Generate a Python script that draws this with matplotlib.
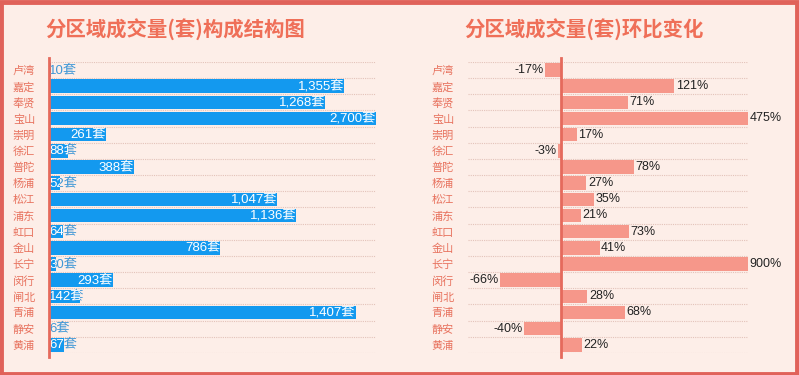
import matplotlib
matplotlib.use("Agg")
import matplotlib.pyplot as plt
from matplotlib.patches import Rectangle
from matplotlib.transforms import Bbox, TransformedBbox

plt.rcParams['font.family'] = ['Noto Sans CJK SC', 'DejaVu Sans']
num_font = ['Liberation Sans', 'Noto Sans CJK SC']

# 数据
districts = ['卢湾', '嘉定', '奉贤', '宝山', '崇明', '徐汇', '普陀', '杨浦', '松江',
             '浦东', '虹口', '金山', '长宁', '闵行', '闸北', '青浦', '静安', '黄浦']
volumes = [10, 1355, 1268, 2700, 261, 88, 388, 52, 1047, 1136, 64, 786, 30, 293, 142, 1407, 6, 67]
changes = [-17, 121, 71, 475, 17, -3, 78, 27, 35, 21, 73, 41, 900, -66, 28, 68, -40, 22]

title_left = '分区域成交量(套)构成结构图'
title_right = '分区域成交量(套)环比变化'

bg = '#fdeee8'
frame_col = '#e0625a'
title_col = '#ef6f58'
tick_col = '#e8735f'
grid_col = '#e3c3ba'
blue = '#1399ef'
blue_txt = '#3f97d6'
salmon = '#f6978a'
axis_col = '#e56a5c'

fig = plt.figure(figsize=(7.99, 3.75), dpi=100, facecolor=bg)
# 外框
fig.patches.append(Rectangle((0.0015, 0.004), 0.9955, 0.991, transform=fig.transFigure,
                             fill=False, edgecolor=frame_col, linewidth=3.5, zorder=10))

ax1 = fig.add_axes([0.0613, 0.059, 0.409, 0.776])
ax2 = fig.add_axes([0.5857, 0.059, 0.3504, 0.776])

n = len(districts)
ypos = list(range(n))
bh = 0.84


def style(ax, xlim):
    ax.set_facecolor('none')
    ax.set_xlim(*xlim)
    ax.set_ylim(n - 0.5, -0.5)
    for s in ax.spines.values():
        s.set_visible(False)
    ax.set_xticks([])
    ax.set_yticks(ypos)
    ax.set_yticklabels(districts, color=tick_col, fontsize=8)
    ax.tick_params(axis='y', length=0, pad=10)
    for b in range(n + 1):
        ax.axhline(b - 0.5, color=grid_col, linestyle=(0, (1, 1)), linewidth=0.8, zorder=0)
    ax.axvline(0, ymin=-0.015, ymax=1.015, color=axis_col, linewidth=2, clip_on=False, zorder=5)


# 左图
style(ax1, (0, 1500))
bars = ax1.barh(ypos, volumes, height=bh, color=blue, zorder=2)
fig.canvas.draw()
renderer = fig.canvas.get_renderer()
for v, y in zip(volumes, ypos):
    label = f'{v:,}套'
    end = min(v, 1500)
    t = ax1.text(end, y, label, ha='right', va='center', fontsize=9.5, color='white',
                 family=num_font, zorder=4)
    tw = t.get_window_extent(renderer).width
    bar_px = ax1.transData.transform((end, 0))[0] - ax1.transData.transform((0, 0))[0]
    if bar_px < tw + 2:
        t.set_ha('left')
        t.set_x(2)
        ax1.text(2, y, label, ha='left', va='center', fontsize=9.5, color=blue_txt,
                 family=num_font, zorder=3)
    # 白字只在柱子内显示
    t.set_clip_box(TransformedBbox(Bbox([[0, y - bh / 2], [end, y + bh / 2]]), ax1.transData))
    t.set_clip_on(True)

# 右图
style(ax2, (-100, 200))
ax2.barh(ypos, changes, height=bh, color=salmon, zorder=2)
for v, y in zip(changes, ypos):
    end = max(min(v, 200), -100)
    if v >= 0:
        ax2.text(end + 1.5, y, f'{v}%', ha='left', va='center', fontsize=9, color='#222222',
                 family=num_font, clip_on=False)
    else:
        ax2.text(end - 1.5, y, f'{v}%', ha='right', va='center', fontsize=9, color='#222222',
                 family=num_font, clip_on=False)

fig.text(0.219, 0.92, title_left, ha='center', va='center', fontsize=14.7,
         fontweight='bold', color=title_col)
fig.text(0.731, 0.92, title_right, ha='center', va='center', fontsize=14.7,
         fontweight='bold', color=title_col)

fig.savefig('out.png', dpi=100, facecolor=bg)
